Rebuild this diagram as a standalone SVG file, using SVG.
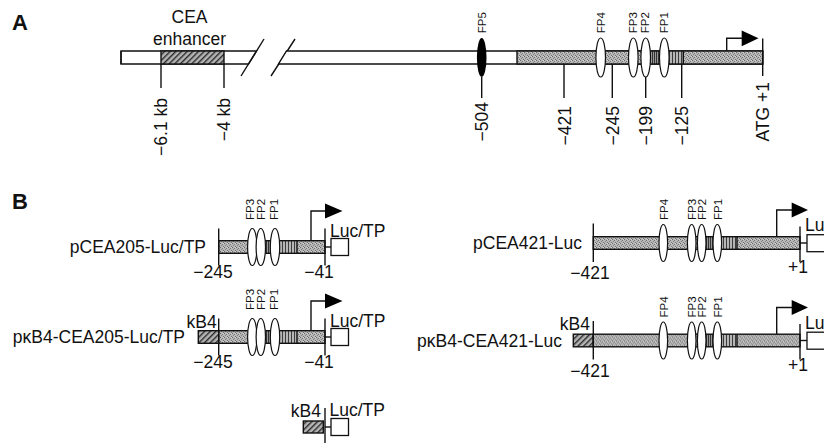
<svg xmlns="http://www.w3.org/2000/svg" width="824" height="443" viewBox="0 0 824 443">
<defs>
<pattern id="stip" width="4" height="4" patternUnits="userSpaceOnUse">
<rect width="4" height="4" fill="#b8b8b8"/>
<rect x="0" y="0" width="1" height="1" fill="#666"/>
<rect x="2" y="1" width="1" height="1" fill="#777"/>
<rect x="1" y="2" width="1" height="1" fill="#808080"/>
<rect x="3" y="3" width="1" height="1" fill="#6f6f6f"/>
<rect x="3" y="0" width="1" height="1" fill="#d6d6d6"/>
</pattern>
<pattern id="vdark" width="2" height="4" patternUnits="userSpaceOnUse">
<rect width="2" height="4" fill="#999"/>
<rect x="0" width="1" height="4" fill="#333"/>
</pattern>
<pattern id="vlight" width="3" height="4" patternUnits="userSpaceOnUse">
<rect width="3" height="4" fill="#b6b6b6"/>
<rect x="0" width="1" height="4" fill="#3c3c3c"/>
</pattern>
<pattern id="hatch" width="4" height="4" patternUnits="userSpaceOnUse" patternTransform="rotate(45)">
<rect width="4" height="4" fill="#b4b4b4"/>
<rect x="0" width="1.4" height="4" fill="#2a2a2a"/>
</pattern>
</defs>
<style>
.t{font-family:"Liberation Sans",Arial,sans-serif;fill:#111}
.lab{font-size:17.5px}
.fp{font-size:11.5px}
.pan{font-size:22px;font-weight:bold}
.ln{stroke:#111;stroke-width:1.4;fill:none}
.bar{stroke:#111;stroke-width:1.4}
.el{fill:#fff;stroke:#111;stroke-width:1.2}
.box{fill:#fff;stroke:#111;stroke-width:1.3}
.head{fill:#000}
</style>

<g id="panelA">
<text class="t pan" x="12" y="30">A</text>
<g id="A-left-bar">
<polygon class="bar" points="121,51 256.5,51 248.5,64 121,64" fill="#fff"/>
<rect class="bar" x="161" y="51" width="63" height="13" fill="url(#hatch)"/>
<text class="t lab" x="189.5" y="23" text-anchor="middle">CEA</text>
<text class="t lab" x="189.5" y="45" text-anchor="middle">enhancer</text>
</g>
<g id="A-break">
<line class="ln" x1="241" y1="76" x2="264" y2="39" stroke-width="1.2"/>
<line class="ln" x1="271" y1="76" x2="295" y2="39" stroke-width="1.2"/>
</g>
<g id="A-right-bar">
<polygon class="bar" points="286.5,51 762.7,51 762.7,64 278.5,64" fill="#fff"/>
<rect x="517" y="51" width="245.7" height="13" fill="url(#stip)"/>
<rect x="646" y="51" width="18" height="13" fill="url(#vdark)"/>
<rect x="664" y="51" width="19.3" height="13" fill="url(#vlight)"/>
<line class="ln" x1="683.3" y1="51" x2="683.3" y2="64" stroke-width="1"/>
<rect class="bar" x="517" y="51" width="245.7" height="13" fill="none"/>
<line class="ln" x1="121" y1="51" x2="121" y2="64"/>
</g>
<g id="A-FP5"><ellipse cx="481.7" cy="57.5" rx="4.8" ry="19.5" fill="#000"/>
<text class="t fp" transform="translate(485.8,33.3) rotate(-90)">FP5</text></g>
<g id="A-FP4"><ellipse class="el" cx="600.7" cy="57.5" rx="4.8" ry="19.5"/>
<text class="t fp" transform="translate(604.8,33.3) rotate(-90)">FP4</text></g>
<g id="A-FP3"><ellipse class="el" cx="633.3" cy="57.5" rx="4.8" ry="19.5"/>
<text class="t fp" transform="translate(637.2,33.3) rotate(-90)">FP3</text></g>
<g id="A-FP2"><ellipse class="el" cx="645.7" cy="57.5" rx="4.8" ry="19.5"/>
<text class="t fp" transform="translate(649.2,33.3) rotate(-90)">FP2</text></g>
<g id="A-FP1"><ellipse class="el" cx="664.3" cy="57.5" rx="4.8" ry="19.5"/>
<text class="t fp" transform="translate(668.4,33.3) rotate(-90)">FP1</text></g>
<g id="A-tss">
<polyline class="ln" points="726.7,51 726.7,38.3 742,38.3"/>
<polygon class="head" points="741.7,30.5 758.5,38.3 741.7,46.3"/>
</g>
<g id="A-ticks">
<line class="ln" x1="161" y1="64" x2="161" y2="88"/>
<line class="ln" x1="224" y1="64" x2="224" y2="88"/>
<line class="ln" x1="481.7" y1="77" x2="481.7" y2="98"/>
<line class="ln" x1="564" y1="64" x2="564" y2="98"/>
<line class="ln" x1="612.3" y1="64" x2="612.3" y2="98"/>
<line class="ln" x1="645.7" y1="77" x2="645.7" y2="98"/>
<line class="ln" x1="681.7" y1="64" x2="681.7" y2="98"/>
<line class="ln" x1="762.7" y1="38.5" x2="762.7" y2="76"/>
<text class="t lab" text-anchor="end" transform="translate(167.2,98) rotate(-90)">−6.1 kb</text>
<text class="t lab" text-anchor="end" transform="translate(230.2,98) rotate(-90)">−4 kb</text>
<text class="t lab" text-anchor="end" transform="translate(488,102) rotate(-90)">−504</text>
<text class="t lab" text-anchor="end" transform="translate(571,106) rotate(-90)">−421</text>
<text class="t lab" text-anchor="end" transform="translate(618.6,106) rotate(-90)">−245</text>
<text class="t lab" text-anchor="end" transform="translate(652,106) rotate(-90)">−199</text>
<text class="t lab" text-anchor="end" transform="translate(688,106) rotate(-90)">−125</text>
<text class="t lab" text-anchor="end" transform="translate(769,82) rotate(-90)">ATG +1</text>
</g>
</g>

<text class="t pan" x="12" y="209">B</text>

<g id="pCEA205" transform="translate(0,247)">
<text class="t lab" x="206" y="6" text-anchor="end">pCEA205-Luc/TP</text>
<rect x="218.7" y="-6.3" width="106.3" height="12.6" fill="url(#stip)"/>
<rect x="259" y="-6.3" width="16" height="12.6" fill="url(#vdark)"/>
<rect x="275" y="-6.3" width="22" height="12.6" fill="url(#vlight)"/>
<line class="ln" x1="297" y1="-6.3" x2="297" y2="6.3" stroke-width="1"/>
<rect class="bar" x="218.7" y="-6.3" width="106.3" height="12.6" fill="none"/>
<line class="ln" x1="218.7" y1="-18.5" x2="218.7" y2="18.5"/>
<line class="ln" x1="325" y1="-18.5" x2="325" y2="18.5"/>
<ellipse class="el" cx="252.3" cy="0" rx="4.7" ry="18.5"/>
<ellipse class="el" cx="260.8" cy="0" rx="4.7" ry="18.5"/>
<ellipse class="el" cx="275" cy="0" rx="4.7" ry="18.5"/>
<text class="t fp" transform="translate(253.5,-27) rotate(-90)">FP3</text>
<text class="t fp" transform="translate(265,-27) rotate(-90)">FP2</text>
<text class="t fp" transform="translate(277.5,-27) rotate(-90)">FP1</text>
<polyline class="ln" points="311,-6.3 311,-36 325.5,-36"/>
<polygon class="head" points="325,-43.5 342.5,-36 325,-28.5"/>
<text class="t lab" x="330" y="-10">Luc/TP</text>
<line class="ln" x1="325" y1="0" x2="331" y2="0"/>
<rect class="box" x="331" y="-8.5" width="17.5" height="17"/>
<text class="t lab" x="213" y="31" text-anchor="middle">−245</text>
<text class="t lab" x="319" y="31" text-anchor="middle">−41</text>
</g>

<g id="pkB4-CEA205" transform="translate(0,337)">
<text class="t lab" x="185" y="6" text-anchor="end">pκB4-CEA205-Luc/TP</text>
<rect class="bar" x="198.3" y="-6.3" width="20.4" height="12.6" fill="url(#hatch)"/>
<text class="t lab" x="216.7" y="-9" text-anchor="end">kB4</text>
<rect x="218.7" y="-6.3" width="106.3" height="12.6" fill="url(#stip)"/>
<rect x="259" y="-6.3" width="16" height="12.6" fill="url(#vdark)"/>
<rect x="275" y="-6.3" width="22" height="12.6" fill="url(#vlight)"/>
<line class="ln" x1="297" y1="-6.3" x2="297" y2="6.3" stroke-width="1"/>
<rect class="bar" x="218.7" y="-6.3" width="106.3" height="12.6" fill="none"/>
<line class="ln" x1="218.7" y1="-18.5" x2="218.7" y2="18.5"/>
<line class="ln" x1="325" y1="-18.5" x2="325" y2="18.5"/>
<ellipse class="el" cx="252.3" cy="0" rx="4.7" ry="18.5"/>
<ellipse class="el" cx="260.8" cy="0" rx="4.7" ry="18.5"/>
<ellipse class="el" cx="275" cy="0" rx="4.7" ry="18.5"/>
<text class="t fp" transform="translate(253.5,-27) rotate(-90)">FP3</text>
<text class="t fp" transform="translate(265,-27) rotate(-90)">FP2</text>
<text class="t fp" transform="translate(277.5,-27) rotate(-90)">FP1</text>
<polyline class="ln" points="311,-6.3 311,-36 325.5,-36"/>
<polygon class="head" points="325,-43.5 342.5,-36 325,-28.5"/>
<text class="t lab" x="330" y="-10">Luc/TP</text>
<line class="ln" x1="325" y1="0" x2="331" y2="0"/>
<rect class="box" x="331" y="-8.5" width="17.5" height="17"/>
<text class="t lab" x="213" y="31" text-anchor="middle">−245</text>
<text class="t lab" x="319" y="31" text-anchor="middle">−41</text>
</g>

<g id="pkB4-min" transform="translate(0,427)">
<rect class="bar" x="303.3" y="-6" width="20" height="12" fill="url(#hatch)"/>
<text class="t lab" x="321" y="-10" text-anchor="end">kB4</text>
<line class="ln" x1="325" y1="-19" x2="325" y2="18"/>
<text class="t lab" x="329.5" y="-11">Luc/TP</text>
<line class="ln" x1="325" y1="0" x2="331" y2="0"/>
<rect class="box" x="331" y="-8.5" width="17.5" height="17"/>
</g>

<g id="pCEA421" transform="translate(0,243)">
<text class="t lab" x="582" y="6" text-anchor="end">pCEA421-Luc</text>
<rect x="593.3" y="-6.3" width="206.7" height="12.6" fill="url(#stip)"/>
<rect x="705" y="-6.3" width="14" height="12.6" fill="url(#vdark)"/>
<rect x="719" y="-6.3" width="18" height="12.6" fill="url(#vlight)"/>
<line class="ln" x1="737" y1="-6.3" x2="737" y2="6.3" stroke-width="1"/>
<rect class="bar" x="593.3" y="-6.3" width="206.7" height="12.6" fill="none"/>
<line class="ln" x1="593.3" y1="-19.5" x2="593.3" y2="19"/>
<line class="ln" x1="800" y1="-16.5" x2="800" y2="19"/>
<ellipse class="el" cx="663.3" cy="0" rx="4.3" ry="18.5"/>
<ellipse class="el" cx="691.7" cy="0" rx="4.3" ry="18.5"/>
<ellipse class="el" cx="701.7" cy="0" rx="4.3" ry="18.5"/>
<ellipse class="el" cx="717.3" cy="0" rx="4.3" ry="18.5"/>
<text class="t fp" transform="translate(668.2,-23) rotate(-90)">FP4</text>
<text class="t fp" transform="translate(695.6,-23) rotate(-90)">FP3</text>
<text class="t fp" transform="translate(705.6,-23) rotate(-90)">FP2</text>
<text class="t fp" transform="translate(721.6,-23) rotate(-90)">FP1</text>
<polyline class="ln" points="776.7,-6.3 776.7,-33 792,-33"/>
<polygon class="head" points="791.7,-40.5 808,-33 791.7,-25.5"/>
<text class="t lab" x="805" y="-12">Lu</text>
<line class="ln" x1="800" y1="0" x2="807" y2="0"/>
<rect class="box" x="807" y="-8.3" width="30" height="17"/>
<text class="t lab" x="590" y="36" text-anchor="middle">−421</text>
<text class="t lab" x="798" y="30" text-anchor="middle">+1</text>
</g>

<g id="pkB4-CEA421" transform="translate(0,340.5)">
<text class="t lab" x="562" y="6" text-anchor="end">pκB4-CEA421-Luc</text>
<rect class="bar" x="573.3" y="-6.3" width="20" height="12.6" fill="url(#hatch)"/>
<text class="t lab" x="590" y="-10.5" text-anchor="end">kB4</text>
<rect x="593.3" y="-6.3" width="206.7" height="12.6" fill="url(#stip)"/>
<rect x="705" y="-6.3" width="14" height="12.6" fill="url(#vdark)"/>
<rect x="719" y="-6.3" width="18" height="12.6" fill="url(#vlight)"/>
<line class="ln" x1="737" y1="-6.3" x2="737" y2="6.3" stroke-width="1"/>
<rect class="bar" x="593.3" y="-6.3" width="206.7" height="12.6" fill="none"/>
<line class="ln" x1="593.3" y1="-19.5" x2="593.3" y2="19"/>
<line class="ln" x1="800" y1="-16.5" x2="800" y2="19"/>
<ellipse class="el" cx="663.3" cy="0" rx="4.3" ry="18.5"/>
<ellipse class="el" cx="691.7" cy="0" rx="4.3" ry="18.5"/>
<ellipse class="el" cx="701.7" cy="0" rx="4.3" ry="18.5"/>
<ellipse class="el" cx="717.3" cy="0" rx="4.3" ry="18.5"/>
<text class="t fp" transform="translate(668.2,-23) rotate(-90)">FP4</text>
<text class="t fp" transform="translate(695.6,-23) rotate(-90)">FP3</text>
<text class="t fp" transform="translate(705.6,-23) rotate(-90)">FP2</text>
<text class="t fp" transform="translate(721.6,-23) rotate(-90)">FP1</text>
<polyline class="ln" points="776.7,-6.3 776.7,-33 792,-33"/>
<polygon class="head" points="791.7,-40.5 808,-33 791.7,-25.5"/>
<text class="t lab" x="805" y="-12">Lu</text>
<line class="ln" x1="800" y1="0" x2="807" y2="0"/>
<rect class="box" x="807" y="-8.3" width="30" height="17"/>
<text class="t lab" x="590" y="36" text-anchor="middle">−421</text>
<text class="t lab" x="798" y="30" text-anchor="middle">+1</text>
</g>

<g id="connectors"></g>
</svg>
